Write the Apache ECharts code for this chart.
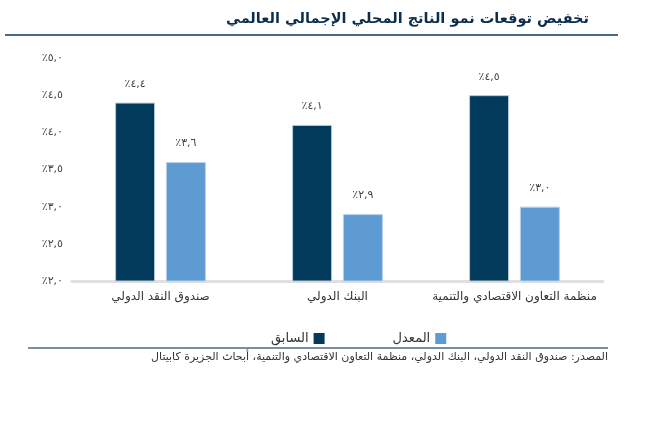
<!DOCTYPE html>
<html><head><meta charset="utf-8">
<script src="https://cdn.jsdelivr.net/npm/echarts@6/dist/echarts.min.js"></script>
<style>html,body{margin:0;padding:0;background:#fff}#c{width:652px;height:446px}</style>
</head><body><div id="c"></div>
<script>
var categories = ['صندوق النقد الدولي', 'البنك الدولي', 'منظمة التعاون الاقتصادي والتنمية'];
var previous = [4.4, 4.1, 4.5];
var revised = [3.6, 2.9, 3.0];
var seriesNames = ['السابق', 'المعدل'];
var yTickValues = [2.0, 2.5, 3.0, 3.5, 4.0, 4.5, 5.0];
var yTickLabels = ['٪٢,٠', '٪٢,٥', '٪٣,٠', '٪٣,٥', '٪٤,٠', '٪٤,٥', '٪٥,٠'];
var titleText = 'تخفيض توقعات نمو الناتج المحلي الإجمالي العالمي';
var sourceText = 'المصدر: صندوق النقد الدولي، البنك الدولي، منظمة التعاون الاقتصادي والتنمية، أبحاث الجزيرة كابيتال';

var AR = '٠١٢٣٤٥٦٧٨٩';
function toAr(v) {
  return '٪' + v.toFixed(1).replace(/\d/g, function (d) { return AR[+d]; }).replace('.', ',');
}
function tickLabel(v) {
  for (var i = 0; i < yTickValues.length; i++) if (Math.abs(yTickValues[i] - v) < 1e-6) return yTickLabels[i];
  return '';
}
var FONT = 'DejaVu Sans';
var chart = echarts.init(document.getElementById('c'), null, { renderer: 'canvas' });
chart.setOption({
  animation: false,
  textStyle: { fontFamily: FONT },
  title: {
    text: titleText, right: 58, top: 7,
    textStyle: { fontFamily: FONT, fontSize: 14.5, fontWeight: 'bold', color: '#0d2d4d' }
  },
  graphic: [
    { type: 'line', shape: { x1: 5, y1: 35, x2: 618, y2: 35 }, style: { stroke: '#4a6886', lineWidth: 2 } },
    { type: 'line', shape: { x1: 28, y1: 348, x2: 608, y2: 348 }, style: { stroke: '#4a6886', lineWidth: 1.5 } },
    { type: 'text', right: 44, top: 352, style: { text: sourceText, font: '11px "DejaVu Sans"', fill: '#333', textAlign: 'right' } }
  ],
  legend: {
    data: seriesNames, left: 266, top: 327, align: 'right', itemWidth: 11, itemHeight: 11, itemGap: 68,
    icon: 'rect', itemStyle: { borderWidth: 0 },
    textStyle: { fontFamily: FONT, fontSize: 13, color: '#333' }
  },
  grid: { left: 72, right: 49, top: 58, bottom: 165, containLabel: false },
  xAxis: {
    type: 'category', data: categories,
    axisLine: { lineStyle: { color: '#e0e0e0', width: 3 } },
    axisTick: { show: false },
    axisLabel: { interval: 0, fontFamily: FONT, fontSize: 12, color: '#333', margin: 10 }
  },
  yAxis: {
    type: 'value', min: 2, max: 5, interval: 0.5,
    splitLine: { show: false }, axisLine: { show: false }, axisTick: { show: false },
    axisLabel: { fontFamily: FONT, fontSize: 11, color: '#444', margin: 9, formatter: tickLabel }
  },
  series: [
    {
      name: seriesNames[0], type: 'bar', data: previous, barWidth: 40, barGap: '27%',
      itemStyle: { color: '#023a5c', borderColor: '#b9c8d6', borderWidth: 1 },
      label: { show: true, position: 'top', distance: 13, fontFamily: FONT, fontSize: 11, color: '#444', formatter: function (p) { return toAr(p.value); } }
    },
    {
      name: seriesNames[1], type: 'bar', data: revised, barWidth: 40,
      itemStyle: { color: '#5e9bd3', borderColor: '#b9d2ea', borderWidth: 1 },
      label: { show: true, position: 'top', distance: 13, fontFamily: FONT, fontSize: 11, color: '#444', formatter: function (p) { return toAr(p.value); } }
    }
  ]
});
</script></body></html>
